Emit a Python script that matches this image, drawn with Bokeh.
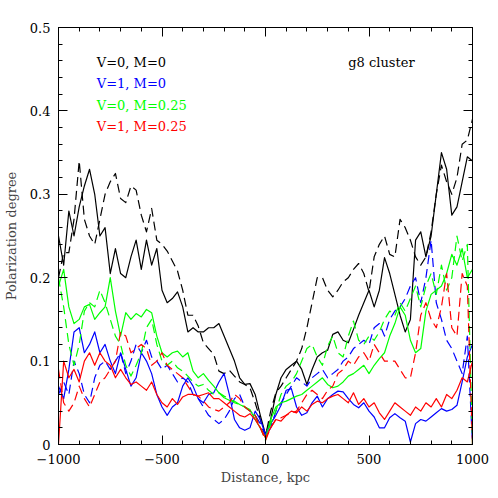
from bokeh.plotting import figure
from bokeh.models import Range1d, LinearAxis, FixedTicker, CustomJSTickFormatter, Label
from bokeh.embed import file_html
from bokeh.resources import INLINE

# Distance grid (kpc)
distance = list(range(-1000, 1001, 25))

black_solid = [
    0.25, 0.215, 0.28, 0.25, 0.285, 0.31, 0.33, 0.30, 0.25, 0.26,
    0.205, 0.235, 0.205, 0.20, 0.225, 0.245, 0.21, 0.245, 0.215, 0.235,
    0.185, 0.17, 0.175, 0.183, 0.165, 0.135, 0.14, 0.135, 0.135, 0.14,
    0.14, 0.145, 0.13, 0.115, 0.10, 0.08, 0.072, 0.073, 0.06, 0.035,
    0.012, 0.03, 0.06, 0.08, 0.09, 0.095, 0.10, 0.09, 0.072, 0.09,
    0.105, 0.11, 0.113, 0.132, 0.135, 0.125, 0.122, 0.138, 0.155, 0.17,
    0.185, 0.165, 0.185, 0.224, 0.205, 0.18, 0.155, 0.135, 0.15, 0.245,
    0.255, 0.225, 0.25, 0.30, 0.35, 0.33, 0.275, 0.285, 0.315, 0.345,
    0.34]

black_dashed = [
    0.20, 0.23, 0.23, 0.27, 0.34, 0.27, 0.25, 0.24, 0.27, 0.30,
    0.315, 0.325, 0.295, 0.29, 0.31, 0.305, 0.275, 0.255, 0.283, 0.245,
    0.24, 0.232, 0.22, 0.208, 0.185, 0.155, 0.155, 0.142, 0.122, 0.115,
    0.108, 0.088, 0.085, 0.089, 0.082, 0.075, 0.072, 0.068, 0.05, 0.03,
    0.01, 0.04, 0.062, 0.07, 0.08, 0.09, 0.10, 0.115, 0.14, 0.17,
    0.20, 0.20, 0.185, 0.177, 0.185, 0.195, 0.20, 0.21, 0.217, 0.205,
    0.183, 0.225, 0.24, 0.25, 0.228, 0.225, 0.27, 0.26, 0.245, 0.225,
    0.215, 0.225, 0.255, 0.30, 0.335, 0.315, 0.30, 0.32, 0.36, 0.365,
    0.39]

blue_solid = [
    0.07, 0.055, 0.09, 0.135, 0.14, 0.11, 0.12, 0.135, 0.11, 0.12,
    0.10, 0.085, 0.11, 0.09, 0.07, 0.08, 0.11, 0.10, 0.085, 0.06,
    0.045, 0.035, 0.045, 0.05, 0.07, 0.08, 0.07, 0.055, 0.05, 0.06,
    0.062, 0.075, 0.085, 0.06, 0.03, 0.02, 0.017, 0.02, 0.04, 0.03,
    0.012, 0.025, 0.035, 0.047, 0.065, 0.067, 0.045, 0.035, 0.038, 0.05,
    0.058, 0.045, 0.055, 0.06, 0.064, 0.063, 0.055, 0.048, 0.044, 0.05,
    0.04, 0.033, 0.02, 0.02, 0.032, 0.037, 0.032, 0.028, 0.003, 0.025,
    0.03, 0.028, 0.033, 0.038, 0.043, 0.04, 0.042, 0.047, 0.075, 0.105,
    0.12]

blue_dashed = [
    0.06, 0.075, 0.06, 0.10, 0.085, 0.06, 0.05, 0.08, 0.095, 0.10,
    0.09, 0.10, 0.11, 0.085, 0.10, 0.12, 0.11, 0.125, 0.105, 0.10,
    0.09, 0.095, 0.085, 0.075, 0.08, 0.075, 0.06, 0.055, 0.045, 0.035,
    0.03, 0.025, 0.03, 0.04, 0.055, 0.06, 0.045, 0.04, 0.035, 0.025,
    0.01, 0.02, 0.04, 0.05, 0.06, 0.07, 0.08, 0.075, 0.07, 0.08,
    0.085, 0.09, 0.08, 0.085, 0.09, 0.10, 0.105, 0.115, 0.12, 0.125,
    0.12, 0.14, 0.145, 0.13, 0.15, 0.16, 0.165, 0.175, 0.19, 0.20,
    0.17, 0.20, 0.245, 0.17, 0.15, 0.125, 0.115, 0.10, 0.085, 0.13,
    0.0]

green_solid = [
    0.19, 0.21, 0.165, 0.145, 0.15, 0.165, 0.168, 0.15, 0.158, 0.165,
    0.20, 0.16, 0.13, 0.158, 0.15, 0.157, 0.153, 0.162, 0.158, 0.13,
    0.11, 0.105, 0.11, 0.112, 0.105, 0.11, 0.088, 0.08, 0.085, 0.077,
    0.07, 0.062, 0.056, 0.053, 0.052, 0.048, 0.045, 0.042, 0.03, 0.02,
    0.008, 0.03, 0.045, 0.05, 0.052, 0.055, 0.058, 0.06, 0.065, 0.07,
    0.075, 0.08, 0.072, 0.068, 0.07, 0.075, 0.082, 0.085, 0.09, 0.095,
    0.085, 0.095, 0.103, 0.11, 0.13, 0.145, 0.165, 0.155, 0.125, 0.11,
    0.115, 0.16, 0.18, 0.185, 0.19, 0.205, 0.228, 0.215, 0.235, 0.20,
    0.21]

green_dashed = [
    0.20, 0.165, 0.12, 0.095, 0.12, 0.16, 0.17, 0.165, 0.185, 0.17,
    0.15, 0.13, 0.12, 0.095, 0.082, 0.095, 0.11, 0.14, 0.15, 0.12,
    0.10, 0.095, 0.10, 0.092, 0.088, 0.082, 0.075, 0.07, 0.072, 0.065,
    0.06, 0.062, 0.058, 0.055, 0.05, 0.048, 0.045, 0.04, 0.035, 0.02,
    0.005, 0.025, 0.04, 0.06, 0.07, 0.075, 0.085, 0.10, 0.115, 0.12,
    0.105, 0.095, 0.118, 0.13, 0.11, 0.105, 0.13, 0.148, 0.125, 0.12,
    0.13, 0.125, 0.135, 0.15, 0.16, 0.155, 0.17, 0.16, 0.175, 0.19,
    0.165, 0.19, 0.205, 0.18, 0.215, 0.185, 0.20, 0.25, 0.22, 0.24,
    0.0]

red_solid = [
    0.0, 0.10, 0.08, 0.09, 0.075, 0.10, 0.11, 0.095, 0.11, 0.10,
    0.095, 0.08, 0.09, 0.08, 0.072, 0.075, 0.07, 0.065, 0.075, 0.06,
    0.05, 0.045, 0.055, 0.048, 0.057, 0.06, 0.06, 0.058, 0.06, 0.062,
    0.055, 0.055, 0.05, 0.045, 0.04, 0.035, 0.033, 0.037, 0.03, 0.02,
    0.008, 0.02, 0.03, 0.028, 0.035, 0.04, 0.038, 0.045, 0.04, 0.048,
    0.052, 0.05, 0.055, 0.058, 0.06, 0.055, 0.05, 0.062, 0.048, 0.055,
    0.045, 0.05, 0.038, 0.03, 0.04, 0.05, 0.045, 0.04, 0.035, 0.045,
    0.04, 0.05, 0.045, 0.055, 0.045, 0.06, 0.055, 0.065, 0.08, 0.075,
    0.10]

red_dashed = [
    0.09, 0.05, 0.04, 0.05, 0.07, 0.055, 0.045, 0.06, 0.075, 0.08,
    0.09, 0.10, 0.135, 0.13, 0.11, 0.115, 0.12, 0.115, 0.095, 0.10,
    0.11, 0.095, 0.09, 0.085, 0.08, 0.07, 0.06, 0.058, 0.052, 0.045,
    0.042, 0.04, 0.045, 0.05, 0.06, 0.055, 0.045, 0.04, 0.035, 0.02,
    0.005, 0.02, 0.03, 0.032, 0.035, 0.038, 0.04, 0.05, 0.06, 0.065,
    0.06, 0.055, 0.065, 0.07, 0.085, 0.09, 0.10, 0.095, 0.105, 0.11,
    0.10, 0.12, 0.11, 0.10, 0.10, 0.10, 0.09, 0.08, 0.08, 0.11,
    0.155, 0.17, 0.15, 0.14, 0.165, 0.205, 0.14, 0.13, 0.205, 0.19,
    0.0]

x_major = [-1000, -500, 0, 500, 1000]
x_minor = list(range(-1000, 1001, 100))
y_major = [0, 0.1, 0.2, 0.3, 0.4, 0.5]
y_minor = [round(0.02 * i, 2) for i in range(26)]

legend_texts = ["V=0, M=0", "V=1, M=0", "V=0, M=0.25", "V=1, M=0.25"]
legend_colors = ["black", "#0000ff", "#00ff00", "#ff0000"]
legend_y = [0.458, 0.433, 0.407, 0.381]

FONT = "DejaVu Serif"

p = figure(width=490, height=490, output_backend="svg", toolbar_location=None,
           x_range=Range1d(-1000, 1000), y_range=Range1d(0, 0.5),
           min_border_left=54, min_border_right=18, min_border_top=27,
           min_border_bottom=46, x_axis_label="Distance, kpc",
           y_axis_label="Polarization degree")
p.grid.visible = False
p.outline_line_color = "black"
p.background_fill_color = "white"
p.border_fill_color = "white"

series = [
    (black_solid, "black", "solid"), (black_dashed, "black", "9 5"),
    (blue_solid, "#0000ff", "solid"), (blue_dashed, "#0000ff", "9 5"),
    (green_solid, "#00ff00", "solid"), (green_dashed, "#00ff00", "9 5"),
    (red_solid, "#ff0000", "solid"), (red_dashed, "#ff0000", "9 5"),
]
for ys, col, dash in series:
    p.line(distance, ys, line_color=col, line_width=1.2, line_dash=dash,
           line_join="round")

xfmt = CustomJSTickFormatter(code="return tick < 0 ? '\u2212' + Math.abs(tick) : String(tick);")
yfmt = CustomJSTickFormatter(code="return tick == 0 ? '0' : tick.toFixed(1);")
blank = CustomJSTickFormatter(code="return '';")

def style(ax, ticker, fmt, labels=True):
    ax.ticker = ticker
    ax.formatter = fmt
    ax.major_tick_in = 9
    ax.major_tick_out = 0
    ax.minor_tick_in = 4
    ax.minor_tick_out = 0
    ax.axis_line_color = "black"
    ax.major_tick_line_color = "black"
    ax.minor_tick_line_color = "black"
    ax.major_label_text_font = FONT
    ax.major_label_text_color = "black"
    ax.axis_label_text_font = FONT
    ax.axis_label_text_font_style = "normal"
    ax.axis_label_text_font_size = "13px"
    if labels:
        ax.major_label_text_font_size = "13px"
    else:
        ax.major_label_text_font_size = "0px"
        ax.major_label_standoff = 0

xt = FixedTicker(ticks=x_major, minor_ticks=x_minor)
yt = FixedTicker(ticks=y_major, minor_ticks=y_minor)

style(p.xaxis[0], xt, xfmt)
p.xaxis[0].major_label_standoff = 9
p.xaxis[0].axis_label_standoff = 3
style(p.yaxis[0], yt, yfmt)
p.yaxis[0].major_label_standoff = 8
p.yaxis[0].axis_label_standoff = 8

top = LinearAxis()
style(top, FixedTicker(ticks=x_major, minor_ticks=x_minor), blank, labels=False)
p.add_layout(top, "above")
right = LinearAxis()
style(right, FixedTicker(ticks=y_major, minor_ticks=y_minor), blank, labels=False)
p.add_layout(right, "right")

for t, c, yv in zip(legend_texts, legend_colors, legend_y):
    p.add_layout(Label(x=-815, y=yv, text=t, text_color=c, text_font=FONT,
                       text_font_size="13px", text_baseline="middle"))
p.add_layout(Label(x=400, y=0.458, text="g8 cluster", text_color="black",
                   text_font=FONT, text_font_size="13px", text_baseline="middle"))

open("out.html", "w").write(file_html(p, INLINE))
